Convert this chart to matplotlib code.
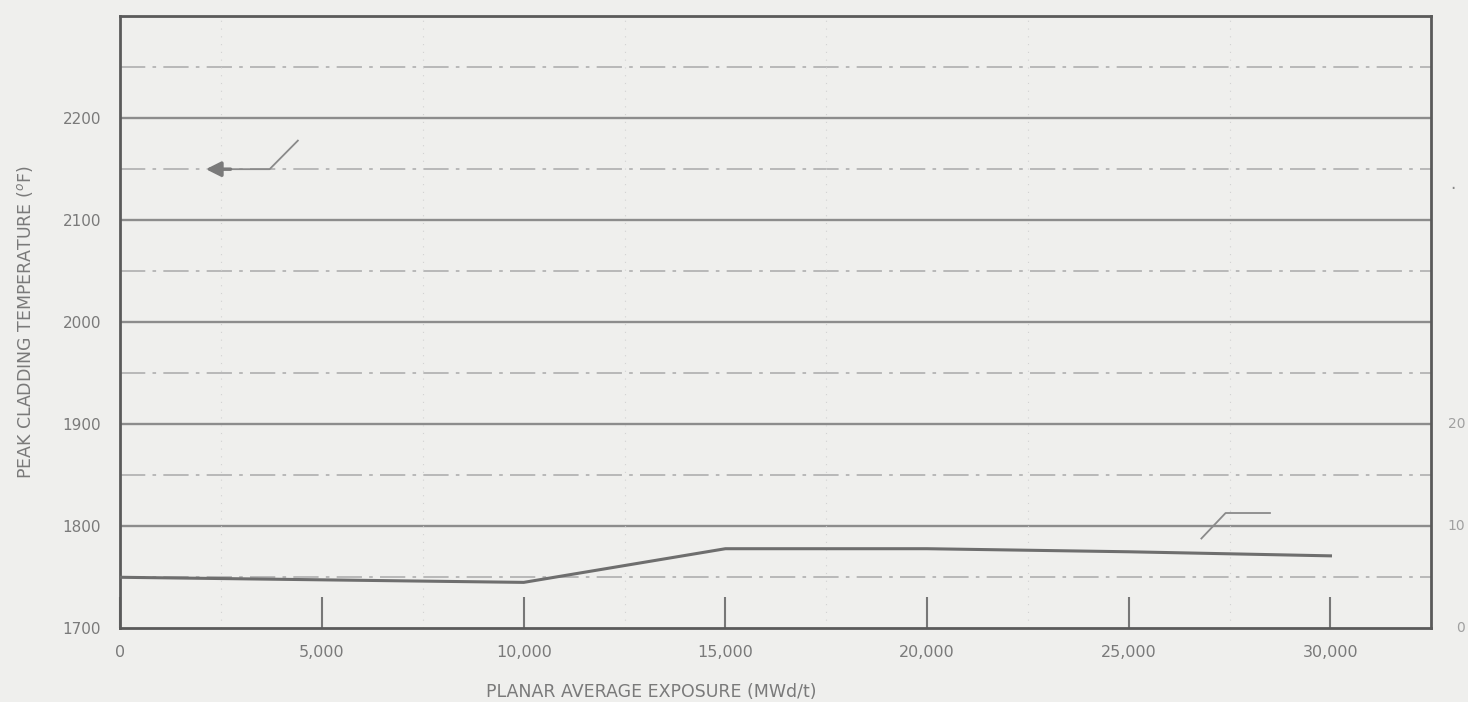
import numpy as np
import matplotlib.pyplot as plt
from matplotlib.transforms import blended_transform_factory

# peak cladding temperature vs planar average exposure
exposure = [0, 10000, 15000, 20000, 25000, 30000]
pct = [1750, 1745, 1778, 1778, 1775, 1771]

xticks = [0, 5000, 10000, 15000, 20000, 25000, 30000]
xlabels = ['0', '5,000', '10,000', '15,000', '20,000', '25,000', '30,000']
yticks = [1700, 1800, 1900, 2000, 2100, 2200]
minor_y = [1750, 1850, 1950, 2050, 2150, 2250]
vgrid = [2500, 7500, 12500, 17500, 22500, 27500, 32500]

# leader lines (annotation marks in the scan)
lead1_x = [2300, 3700, 4400]
lead1_y = [2150, 2150, 2178]
lead2_x = [26800, 27400, 28500]
lead2_y = [1788, 1813, 1813]

right_labels = ['20', '10', '0']
right_y = [1900, 1800, 1700]

bg = '#efefed'
txt = '#7a7a7a'

fig = plt.figure(figsize=(14.68, 7.02), dpi=100, facecolor=bg)
ax = fig.add_axes([0.082, 0.105, 0.893, 0.872])
ax.set_facecolor(bg)

ax.set_xlim(0, 32500)
ax.set_ylim(1700, 2300)

for y in yticks[1:] + [2300]:
    ax.axhline(y, color='#8c8c8c', lw=1.7, zorder=1)
for y in minor_y:
    ax.axhline(y, color='#b4b4b4', lw=1.3, ls=(0, (14, 4, 2, 4)), zorder=1)
for x in vgrid:
    ax.axvline(x, color='#d2d2d2', lw=0.8, ls=(0, (1, 6)), zorder=1)

ax.plot(exposure, pct, color='#6e6e6e', lw=2.2, zorder=3)

ax.plot(lead1_x, lead1_y, color='#8a8a8a', lw=1.3)
ax.annotate('', xy=(2050, 2150), xytext=(lead1_x[0] + 500, 2150),
            arrowprops=dict(arrowstyle='-|>', color='#7a7a7a', lw=2.5, mutation_scale=22))
ax.plot(lead2_x, lead2_y, color='#8a8a8a', lw=1.3)

ax.set_xticks(xticks)
ax.set_xticklabels(xlabels)
ax.set_yticks(yticks)
ax.tick_params(axis='x', direction='in', length=22, width=1.5, color='#777777',
               labelsize=11.5, labelcolor=txt, pad=12)
ax.tick_params(axis='y', length=0, labelsize=11, labelcolor=txt, pad=14)
ax.tick_params(top=False, right=False)

for s in ax.spines.values():
    s.set_color('#5a5a5a')
    s.set_linewidth(2)

ax.set_ylabel('PEAK CLADDING TEMPERATURE ($^{o}$F)', fontsize=12.5, color=txt, labelpad=20)
ax.set_xlabel('PLANAR AVERAGE EXPOSURE (MWd/t)', fontsize=12.5, color=txt)
ax.xaxis.set_label_coords(0.405, -0.09)

# partial secondary scale at the right edge of the scan
trans = blended_transform_factory(fig.transFigure, ax.transData)
for lab, y in zip(right_labels, right_y):
    ax.text(0.998, y, lab, transform=trans, fontsize=10, color='#a0a0a0',
            va='center', ha='right', clip_on=False)
ax.text(0.988, 2135, '.', transform=trans, fontsize=12, color='#888888',
        va='center', clip_on=False)

fig.savefig('out.png', dpi=100, facecolor=bg)
